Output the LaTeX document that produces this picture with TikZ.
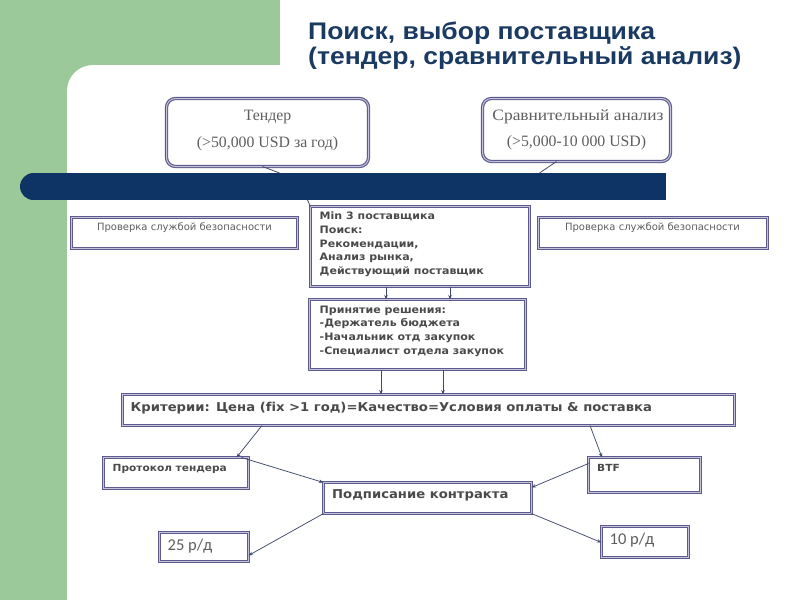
\documentclass[tikz,border=0pt]{standalone}
\usepackage{fontspec}
\setmainfont{Liberation Serif}
\newfontfamily\titlefont{Liberation Sans}
\newfontfamily\vfont[Ligatures=NoCommon]{DejaVu Sans}
\newfontfamily\cfont{Carlito}
\usetikzlibrary{arrows.meta}
\definecolor{bggreen}{HTML}{9CC999}
\definecolor{barc}{HTML}{0E3466}
\definecolor{titlec}{HTML}{1A3A62}
\definecolor{boxdark}{HTML}{5E5B8C}
\definecolor{boxlight}{HTML}{C4C3DE}
\definecolor{linec}{HTML}{414A6C}
\definecolor{txtgray}{HTML}{5E5E5E}
\definecolor{txtdark}{HTML}{4A4A4A}
\newcommand\mylines[1]{\begin{tabular}[t]{@{}l@{}}#1\end{tabular}}
\tikzset{
  box/.style={draw=boxdark, double=boxlight, double distance=1pt, line width=1.15pt,
    fill=white, anchor=north west, inner sep=0pt, outer sep=0pt},
  rbox/.style={box, rounded corners=9pt},
  serift/.style={font=\fontsize{15.8}{18}\selectfont, text=txtgray, inner sep=0pt},
  smallt/.style={font=\vfont\fontsize{10}{12}\selectfont, text=txtgray, inner sep=0pt},
  boldt/.style={font=\vfont\bfseries\fontsize{10.2}{13.75}\selectfont, text=txtdark, inner sep=0pt, anchor=base west, xscale=1.08},
  bigt/.style={font=\vfont\bfseries\fontsize{12.2}{14}\selectfont, text=txtdark, inner sep=0pt, anchor=base west, xscale=1.08},
  numt/.style={font=\cfont\fontsize{16.5}{18}\selectfont, text=txtgray, inner sep=0pt, anchor=base west},
  conn/.style={draw=linec, line width=0.75pt, -{Stealth[length=4.5pt,width=3.5pt]}},
  callout/.style={draw=linec, line width=0.8pt}
}
\begin{document}
\begin{tikzpicture}[x=1pt,y=-1pt]
\useasboundingbox (0,0) rectangle (800,600);
% background
\fill[white] (0,0) rectangle (800,600);
\fill[bggreen] (0,0) rectangle (280,600);
\fill[white, rounded corners=26pt] (67,65) rectangle (860,660);
% title
\node[font=\titlefont\bfseries\fontsize{24}{23.7}\selectfont, text=titlec,
  anchor=base west, inner sep=0pt, xscale=1.105] (title) at (308,39.3)
  {\mylines{Поиск, выбор поставщика\\(тендер, сравнительный анализ)}};
% bar
\fill[barc] (33.5,186.5) circle (13.5);
\node[fill=barc, anchor=north west, minimum width=632.5, minimum height=27, inner sep=0pt, outer sep=0pt] (bar) at (33.5,173) {};
% top boxes
\node[rbox, minimum width=202, minimum height=68] (tender) at (166.5,98.5) {};
\node[serift] (tenderA) at (267.5,117.5) {Тендер};
\node[serift] (tenderB) at (267.5,144) {(>50,000 USD за год)};
\node[rbox, minimum width=188, minimum height=63] (comp) at (482.5,98.5) {};
\node[serift, xscale=1.1] (compA) at (578,116.5) {Сравнительный анализ};
\node[serift] (compB) at (576.5,142.5) {(>5,000-10 000 USD)};
\draw[callout] ([xshift=-5pt]tender.south) -- ([xshift=246pt]bar.north west);
\draw[callout] ([xshift=-20pt]comp.south) -- ([xshift=506pt]bar.north west);
% security boxes
\node[box, minimum width=226, minimum height=31] (secL) at (71.5,217.5) {};
\node[smallt] (secLt) at (184.5,227.5) {Проверка службой безопасности};
\node[box, minimum width=229, minimum height=31] (secR) at (538.5,217.5) {};
\node[smallt] (secRt) at (652.5,227.5) {Проверка службой безопасности};
% min3
\node[box, minimum width=219, minimum height=80] (min3) at (310.5,206.5) {};
\draw[callout] ([xshift=274pt]bar.south west) -- (min3.north west);
\node[boldt] (min3t) at (319.5,219.5) {\mylines{Min 3 поставщика\\Поиск:\\Рекомендации,\\Анализ рынка,\\Действующий поставщик}};
% decision
\node[box, minimum width=216, minimum height=70] (dec) at (309.5,299.5) {};
\node[boldt] (dect) at (319.5,313.2) {\mylines{Принятие решения:\\-Держатель бюджета\\-Начальник отд закупок\\-Специалист отдела закупок}};
\draw[conn] ([xshift=75.5pt]min3.south west) -- ([xshift=76.5pt]dec.north west);
\draw[conn] ([xshift=139.5pt]min3.south west) -- ([xshift=140.5pt]dec.north west);
% criteria
\node[box, minimum width=612, minimum height=31] (crit) at (122.5,394.5) {};
\node[bigt] (critt) at (130.5,411.3) {Критерии: Цена (f\kern0pt ix >1 год)=Качество=Условия оплаты \& поставка};
\draw[conn] ([xshift=71.5pt]dec.south west) -- ([xshift=258.5pt]crit.north west);
\draw[conn] ([xshift=133.5pt]dec.south west) -- ([xshift=320.5pt]crit.north west);
% lower boxes
\node[box, minimum width=145, minimum height=31] (prot) at (103.5,457.5) {};
\node[boldt, font=\vfont\bfseries\fontsize{9.8}{12}\selectfont] (prott) at (112.5,471.5) {Протокол тендера};
\node[box, minimum width=112, minimum height=35] (btf) at (588.5,457.5) {};
\node[boldt, font=\vfont\bfseries\fontsize{9.8}{12}\selectfont] (btft) at (597,471.5) {BTF};
\node[box, minimum width=208, minimum height=31] (sign) at (323.5,482.5) {};
\node[bigt] (signt) at (332,498.5) {Подписание контракта};
\node[box, minimum width=89, minimum height=29] (r25) at (159.5,532.5) {};
\node[numt] (r25t) at (167.5,550.5) {25 р/д};
\node[box, minimum width=87, minimum height=31] (r10) at (601.5,526.5) {};
\node[numt] (r10t) at (609.5,544.5) {10 р/д};
% connectors
\draw[conn] ([xshift=139.5pt]crit.south west) -- ([xshift=-12pt]prot.north east);
\draw[conn] ([xshift=467.5pt]crit.south west) -- ([xshift=13.5pt]btf.north west);
\draw[conn] ([xshift=-7pt]prot.north east) -- (sign.north west);
\draw[conn] ([yshift=-6pt]btf.north west) -- ([yshift=-5pt]sign.north east);
\draw[conn] (sign.south west) -- ([yshift=6pt]r25.south east);
\draw[conn] (sign.south east) -- ([yshift=-16pt]r10.north west);
\end{tikzpicture}
\end{document}
